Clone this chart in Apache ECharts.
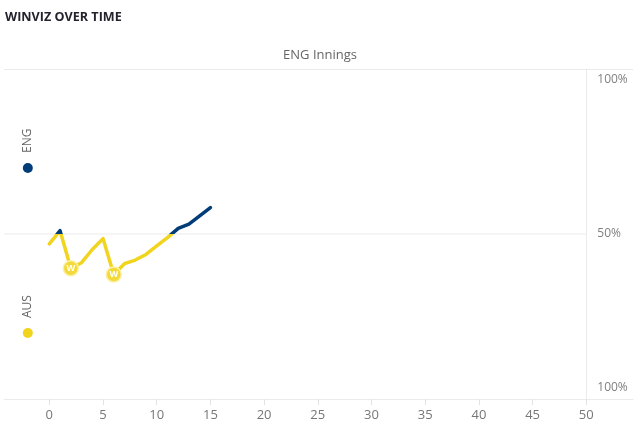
<!DOCTYPE html>
<html>
<head>
<meta charset="utf-8">
<script src="https://cdn.jsdelivr.net/npm/echarts@6/dist/echarts.min.js"></script>
<style>
html,body{margin:0;padding:0;background:#fff;}
#chart{width:640px;height:439px;}
</style>
</head>
<body>
<div id="chart"></div>
<script>
// ---- data ----
const overs = [0, 1, 2, 3, 4, 5, 6, 7, 8, 9, 10, 11, 12, 13, 14, 15];
// ENG win probability (%): 100 = ENG certain, 0 = AUS certain
const engWinProb = [47, 51, 39.6, 41.3, 45.3, 48.6, 37.7, 41, 42.1, 43.8, 46.4, 48.9, 51.7, 53, 55.5, 58];
const wicketOvers = [2, 6];
const teams = ['ENG', 'AUS'];
const teamMarkerX = [-2, -2];
const teamMarkerY = [70, 20];
const xTickMin = 0, xTickMax = 50, xTickStep = 5;
const xMin = -4.22, xMax = 54.35, evenLevel = 50;
const titleText = 'WINVIZ OVER TIME';
const subTitleText = 'ENG Innings';

const ENG_COLOR = '#033d79';
const AUS_COLOR = '#F0D41E';
const FONT = 'Open Sans';

const lineData = overs.map((o, i) => [o, engWinProb[i]]);
const wicketData = wicketOvers.map(o => [o, engWinProb[overs.indexOf(o)]]);
const teamData = teams.map((t, i) => ({
  value: [teamMarkerX[i], teamMarkerY[i]],
  name: t,
  itemStyle: { color: i === 0 ? ENG_COLOR : AUS_COLOR, opacity: 1 }
}));
const midLineData = [[xMin, evenLevel], [xTickMax, evenLevel]];

// layout: main grid spans 4..633 px; tick grid spans the 0..50 range inside it
const GL = 4, GR = 633, W = 640;
const pxPerUnit = (GR - GL) / (xMax - xMin);
const tickLeft = GL + (xTickMin - xMin) * pxPerUnit;
const tickRight = W - (GL + (xTickMax - xMin) * pxPerUnit);

const chart = echarts.init(document.getElementById('chart'));
chart.setOption({
  animation: false,
  textStyle: { fontFamily: FONT },
  title: [
    { text: titleText, left: 0, top: 6,
      textStyle: { fontFamily: FONT, fontSize: 12.6, fontWeight: 'bold', color: '#23232d' } },
    { text: subTitleText, left: 'center', top: 44,
      textStyle: { fontFamily: FONT, fontSize: 13, fontWeight: 'normal', color: '#666' } }
  ],
  grid: [
    { left: GL, right: W - GR, top: 69, bottom: 40 },
    { left: tickLeft, right: tickRight, top: 69, bottom: 40 }
  ],
  xAxis: [
    {
      type: 'value', gridIndex: 0, min: xMin, max: xMax,
      axisLine: { show: true, onZero: false, lineStyle: { color: '#ebebeb', width: 1 } },
      axisTick: { show: false }, axisLabel: { show: false }, splitLine: { show: false }
    },
    {
      type: 'value', gridIndex: 1, min: xTickMin, max: xTickMax, interval: xTickStep,
      axisLine: { show: false, onZero: false },
      axisTick: { show: true, length: 6, lineStyle: { color: '#e3e3e3' } },
      axisLabel: { color: '#777', fontSize: 13, fontFamily: FONT, margin: 10 },
      splitLine: { show: false }
    }
  ],
  yAxis: [
    {
      type: 'value', gridIndex: 0, position: 'right', offset: -(GR - (W - tickRight)), min: 0, max: 100, interval: 50,
      axisLine: { show: true, onZero: false, lineStyle: { color: '#ebebeb' } },
      axisTick: { show: false },
      splitLine: { show: true, lineStyle: { color: ['#ebebeb', 'rgba(0,0,0,0)', '#ebebeb'] } },
      axisLabel: {
        color: '#808080', fontSize: 12, fontFamily: FONT, margin: 11,
        formatter: v => v === 50 ? '50%' : (v === 100 ? '{t|100%}' : '{b|100%}'),
        rich: {
          t: { padding: [22, 0, 0, 0], color: '#808080', fontSize: 12, fontFamily: FONT },
          b: { padding: [0, 0, 22, 0], color: '#808080', fontSize: 12, fontFamily: FONT }
        }
      }
    },
    {
      type: 'value', gridIndex: 1, min: 0, max: 100, show: false
    }
  ],
  visualMap: {
    type: 'piecewise', show: false, dimension: 1, seriesIndex: 0,
    pieces: [{ gte: 0, lte: 50, color: AUS_COLOR }, { gt: 50, lte: 100, color: ENG_COLOR }]
  },
  series: [
    {
      type: 'line', data: lineData, symbol: 'none', z: 3,
      lineStyle: { width: 3.5, cap: 'round', join: 'round' }
    },
    {
      type: 'scatter', data: wicketData, symbol: 'circle', symbolSize: 15, z: 5,
      itemStyle: { color: '#F3DA38', borderColor: '#FBF0A8', borderWidth: 1.5, opacity: 1 },
      label: { show: true, position: 'inside', formatter: 'W', color: '#fff', fontWeight: 'bold', fontSize: 9, fontFamily: FONT }
    },
    {
      type: 'scatter', data: teamData, symbol: 'circle', symbolSize: 10, z: 4,
      label: {
        show: true, position: 'inside', rotate: 90, align: 'left', verticalAlign: 'middle',
        padding: [0, 0, 0, 15],
        formatter: p => p.name, color: '#666', fontSize: 12, fontFamily: FONT
      }
    },
    {
      type: 'line', data: midLineData, symbol: 'none', silent: true, z: 1,
      lineStyle: { color: '#ebebeb', width: 1 }
    }
  ]
});
</script>
</body>
</html>
